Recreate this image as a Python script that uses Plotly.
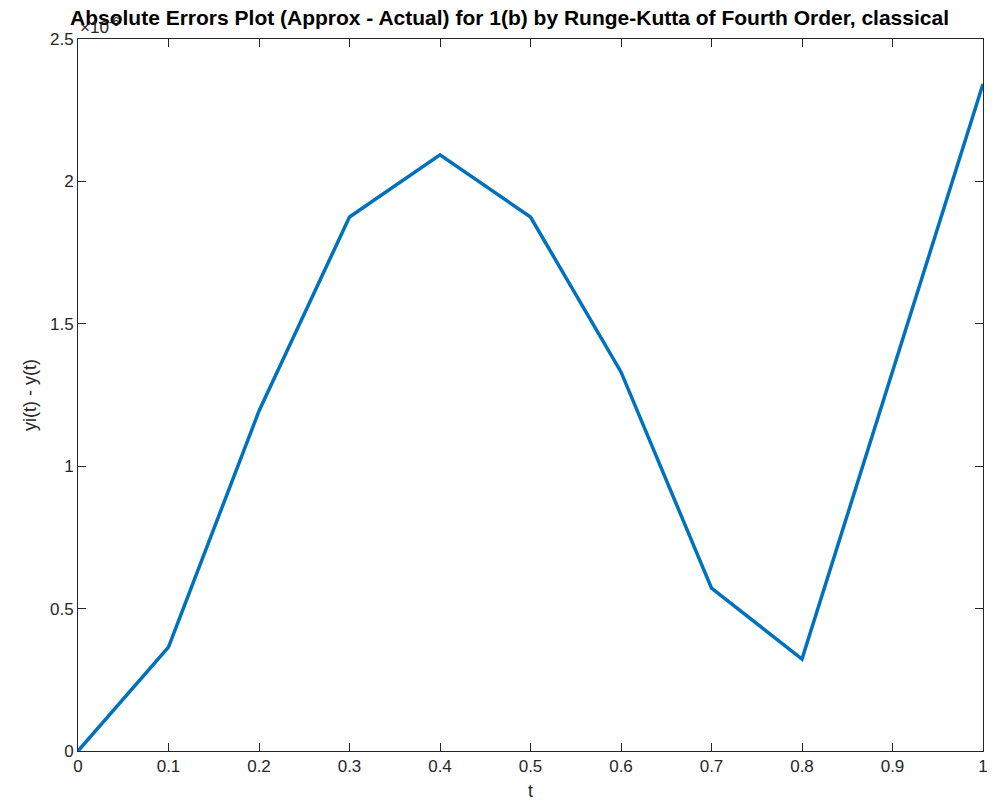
import plotly.graph_objects as go

t = [0, 0.1, 0.2, 0.3, 0.4, 0.5, 0.6, 0.7, 0.8, 0.9, 1.0]
err = [0, 0.365, 1.194, 1.875, 2.093, 1.875, 1.331, 0.572, 0.323, 1.33, 2.342]
x_ticks = [0, 0.1, 0.2, 0.3, 0.4, 0.5, 0.6, 0.7, 0.8, 0.9, 1]
x_labels = ["0", "0.1", "0.2", "0.3", "0.4", "0.5", "0.6", "0.7", "0.8", "0.9", "1"]
y_ticks = [0, 0.5, 1, 1.5, 2, 2.5]
y_labels = ["0", "0.5", "1", "1.5", "2", "2.5"]

fig = go.Figure()
fig.add_trace(go.Scatter(x=t, y=err, mode="lines",
                         line=dict(color="#0072BD", width=3.5)))

axis = dict(showgrid=False, zeroline=False, showline=True, mirror="ticks",
            linecolor="#262626", linewidth=1, ticks="inside", ticklen=8,
            tickcolor="#262626", tickfont=dict(size=17, color="#262626"),
            automargin=False)
fig.update_xaxes(range=[0, 1], tickvals=x_ticks, ticktext=x_labels,
                 title=dict(text="t", font=dict(size=18, color="#262626"), standoff=8),
                 **axis)
fig.update_yaxes(range=[0, 2.5], tickvals=y_ticks, ticktext=y_labels,
                 title=dict(text="yi(t) - y(t)", font=dict(size=18, color="#262626"), standoff=8),
                 **axis)
fig.add_annotation(x=0, y=1, xref="paper", yref="paper", xanchor="left", yanchor="bottom",
                   text="×10<sup>-6</sup>", showarrow=False, xshift=0,
                   font=dict(size=17, color="#262626"))
fig.update_layout(
    width=1003, height=805, plot_bgcolor="white", paper_bgcolor="white",
    font=dict(family="Liberation Sans, Arial, sans-serif"),
    showlegend=False,
    title=dict(text="<b>Absolute Errors Plot (Approx - Actual) for 1(b) by Runge-Kutta of Fourth Order, classical</b>",
               x=0.5, xanchor="center", y=0.997, yanchor="top",
               font=dict(size=21, color="black")),
    margin=dict(l=70, r=28, t=31, b=62),
)
fig.write_html("out.html")
